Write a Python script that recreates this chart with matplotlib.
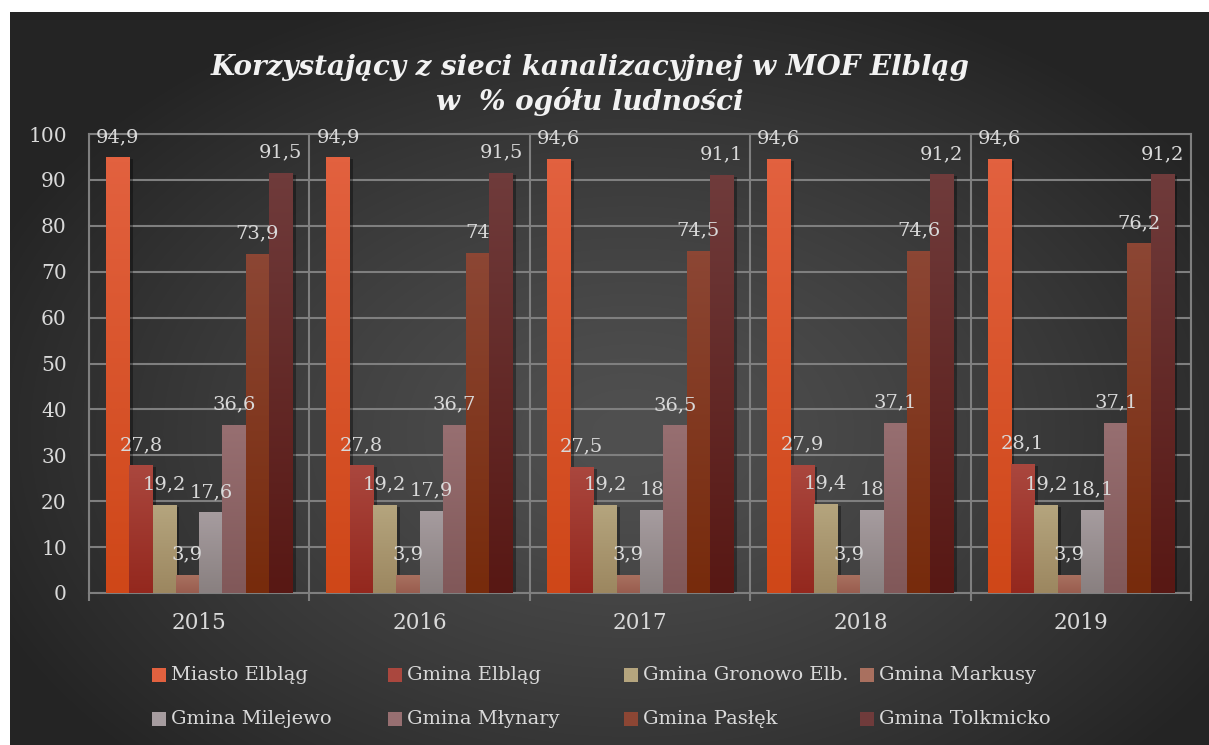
import numpy as np
import matplotlib
matplotlib.use('Agg')
import matplotlib.pyplot as plt
import matplotlib.patheffects as pe
from matplotlib.colors import LinearSegmentedColormap
from matplotlib.patches import Rectangle

plt.rcParams['font.family'] = ['DejaVu Serif']

# Data
years = ['2015', '2016', '2017', '2018', '2019']
series_names = ['Miasto Elbląg', 'Gmina Elbląg', 'Gmina Gronowo Elb.', 'Gmina Markusy',
                'Gmina Milejewo', 'Gmina Młynary', 'Gmina Pasłęk', 'Gmina Tolkmicko']
miasto_elblag = [94.9, 94.9, 94.6, 94.6, 94.6]
gmina_elblag = [27.8, 27.8, 27.5, 27.9, 28.1]
gmina_gronowo = [19.2, 19.2, 19.2, 19.4, 19.2]
gmina_markusy = [3.9, 3.9, 3.9, 3.9, 3.9]
gmina_milejewo = [17.6, 17.9, 18, 18, 18.1]
gmina_mlynary = [36.6, 36.7, 36.5, 37.1, 37.1]
gmina_paslek = [73.9, 74, 74.5, 74.6, 76.2]
gmina_tolkmicko = [91.5, 91.5, 91.1, 91.2, 91.2]
series_values = [miasto_elblag, gmina_elblag, gmina_gronowo, gmina_markusy,
                 gmina_milejewo, gmina_mlynary, gmina_paslek, gmina_tolkmicko]

# top / bottom colour of each bar gradient
top_colors = ['#E2613F', '#AA473E', '#B5A57E', '#A9705F', '#A69C9F', '#976F71', '#8C4634', '#6F3B3B']
bottom_colors = ['#CF4718', '#94281E', '#9C8760', '#985D4F', '#898080', '#815859', '#772B0C', '#581814']

W, H = 1209, 745
fig = plt.figure(figsize=(W / 100, H / 100), dpi=100, facecolor='white')

# dark radial background with a thin white margin top and left
bg = fig.add_axes([10 / W, 0, 1 - 10 / W, 1 - 12 / H], zorder=-10)
gx, gy = np.meshgrid(np.arange(W - 10), np.arange(H - 12))
r = np.sqrt(((gx - 620) / 700.0) ** 2 + ((gy - 420) / 470.0) ** 2)
r = np.clip(r, 0, 1)
shade = (0x50 - (0x50 - 0x24) * r ** 1.3) / 255.0
bg.imshow(np.dstack([shade, shade, shade]), aspect='auto', interpolation='bilinear')
bg.set_axis_off()

ax = fig.add_axes([89 / W, 1 - 593 / H, (1191 - 89) / W, (593 - 134) / H])
ax.set_facecolor('none')

n = len(series_names)
group = 0.845
bw = group / n
x = np.arange(len(years))
grid_col = '#7f7f7f'
label_col = '#d9d9d9'

for i, (name, vals) in enumerate(zip(series_names, series_values)):
    pos = x - group / 2 + bw * (i + 0.5)
    bars = ax.bar(pos, vals, width=bw, color=bottom_colors[i], zorder=2,
                  path_effects=[pe.SimplePatchShadow(offset=(2.5, -1.5), alpha=0.35, shadow_rgbFace='black'),
                                pe.Normal()])
    cmap = LinearSegmentedColormap.from_list(name, [top_colors[i], bottom_colors[i]])
    grad = np.linspace(0, 1, 64).reshape(-1, 1)
    for rect, v in zip(bars, vals):
        x0, y0 = rect.get_x(), rect.get_y()
        im = ax.imshow(grad, cmap=cmap, extent=[x0, x0 + rect.get_width(), y0, y0 + rect.get_height()],
                       aspect='auto', zorder=3, interpolation='bilinear')
        im.set_clip_path(rect)
        ax.annotate(f'{v:g}'.replace('.', ','), (rect.get_x() + rect.get_width() / 2, v),
                    xytext=(0, 11), textcoords='offset points', ha='center', va='baseline',
                    fontsize=14, color=label_col, zorder=5)

ax.set_xlim(-0.5, len(years) - 0.5)
ax.set_ylim(0, 100)
ax.set_yticks(np.arange(0, 101, 10))
ax.set_xticks(x)
ax.set_xticklabels(years)
ax.set_xticks(np.arange(-0.5, len(years)), minor=True)
ax.tick_params(axis='x', which='major', length=0, pad=14, labelsize=15.5, labelcolor=label_col)
ax.tick_params(axis='x', which='minor', length=6, width=1.5, color=grid_col)
ax.tick_params(axis='y', length=0, pad=16, labelsize=14.5, labelcolor=label_col)
ax.set_axisbelow(True)
ax.grid(axis='y', color=grid_col, lw=1.5)
ax.grid(axis='x', which='minor', color=grid_col, lw=1.5)
for s in ax.spines.values():
    s.set_color(grid_col)
    s.set_linewidth(1.5)

fig.text(590 / W, 1 - 85 / H, 'Korzystający z sieci kanalizacyjnej w MOF Elbląg\nw  % ogółu ludności',
         ha='center', va='center', fontsize=20, fontweight='bold', fontstyle='italic',
         color='#f2f2f2', linespacing=1.3)

# legend laid out like the original: 4 equal columns, 2 rows
for k, name in enumerate(series_names):
    row, col = divmod(k, 4)
    mx = 152 + 236 * col
    my = 675 + 44 * row
    fig.add_artist(Rectangle((mx / W, 1 - (my + 7) / H), 14 / W, 14 / H,
                             transform=fig.transFigure, color=top_colors[k], lw=0))
    fig.text((mx + 19) / W, 1 - my / H, name, ha='left', va='center',
             fontsize=14, color=label_col)

fig.savefig('out.png', dpi=100, facecolor='white')
